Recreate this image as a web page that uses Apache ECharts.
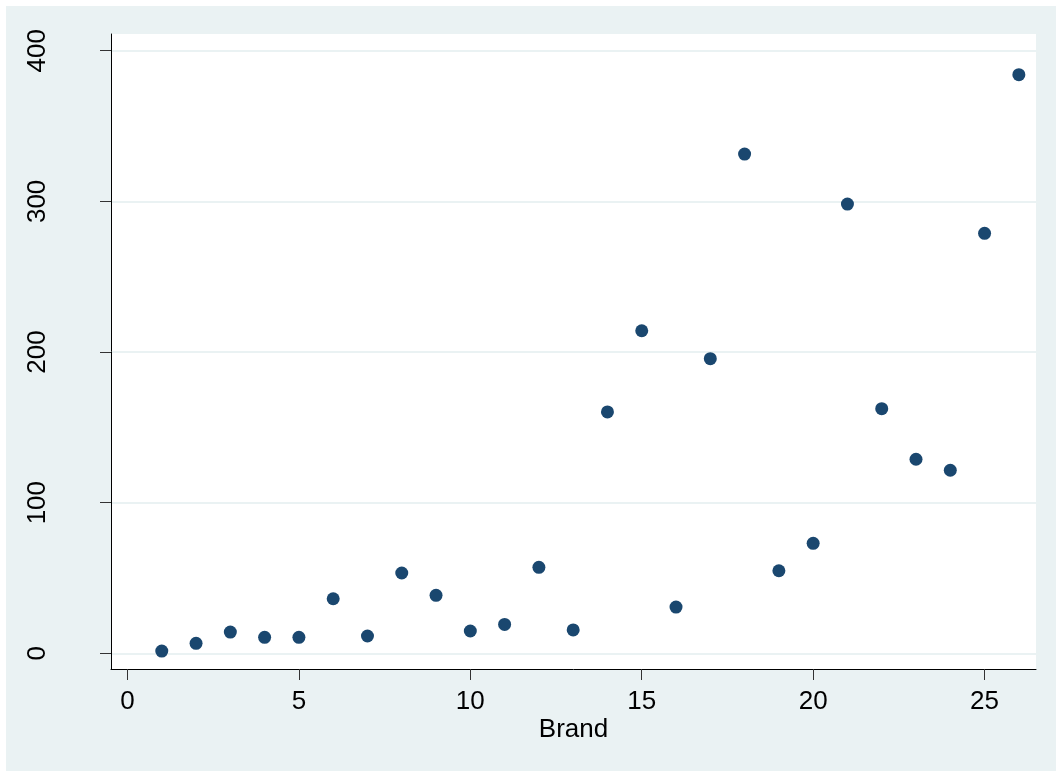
<!DOCTYPE html>
<html>
<head>
<meta charset="utf-8">
<script src="https://cdn.jsdelivr.net/npm/echarts@6/dist/echarts.min.js"></script>
<style>
  html, body { margin: 0; padding: 0; background: #ffffff; }
  #chart { position: absolute; left: 6px; top: 6px; width: 1050px; height: 765px; background: #EAF2F3; }
</style>
</head>
<body>
<div id="chart"></div>
<script>
// Brand number on the x axis, value on the y axis
const brands = [1, 2, 3, 4, 5, 6, 7, 8, 9, 10, 11, 12, 13, 14, 15, 16, 17, 18, 19, 20, 21, 22, 23, 24, 25, 26];
const values = [1.5, 6.6, 14.1, 10.6, 10.6, 36.2, 11.5, 53.3, 38.5, 14.8, 19.2, 57.1, 15.5,
                160.2, 214.1, 30.7, 195.6, 331.4, 54.8, 73.0, 298.2, 162.4, 128.8, 121.5, 278.8, 384.1];
const xTicks = [0, 5, 10, 15, 20, 25];
const yTicks = [0, 100, 200, 300, 400];

const points = brands.map((b, i) => [b, values[i]]);
const FONT = '"Liberation Sans", Arial, Helvetica, sans-serif';

const chart = echarts.init(document.getElementById('chart'));
chart.setOption({
  animation: false,
  backgroundColor: 'transparent',
  grid: {
    left: 105, right: 20, top: 28, bottom: 102,
    show: true, backgroundColor: '#ffffff', borderWidth: 0
  },
  xAxis: {
    type: 'value',
    min: -0.481, max: 26.5,
    name: 'Brand',
    nameLocation: 'middle',
    nameGap: 48,
    nameMoveOverlap: false,
    nameTextStyle: { fontFamily: FONT, fontSize: 26, color: '#000' },
    axisLine: { show: true, onZero: false, lineStyle: { color: '#000', width: 1 } },
    axisTick: { show: true, inside: false, length: 11, customValues: xTicks, lineStyle: { color: '#333', width: 1 } },
    axisLabel: { customValues: xTicks, margin: 20, fontFamily: FONT, fontSize: 26, color: '#000' },
    splitLine: { show: false }
  },
  yAxis: {
    type: 'value',
    min: -10.42, max: 411.1,
    axisLine: { show: true, onZero: false, lineStyle: { color: '#000', width: 1 } },
    axisTick: { show: true, inside: false, length: 11, customValues: yTicks, lineStyle: { color: '#333', width: 1 } },
    axisLabel: { customValues: yTicks, rotate: 90, margin: 60, fontFamily: FONT, fontSize: 26, color: '#000' },
    splitLine: { show: true, lineStyle: { color: '#EAF2F3', width: 2 } }
  },
  series: [{
    type: 'scatter',
    data: points,
    symbol: 'circle',
    symbolSize: 13,
    itemStyle: { color: '#1A476F', opacity: 1 }
  }]
});
</script>
</body>
</html>
